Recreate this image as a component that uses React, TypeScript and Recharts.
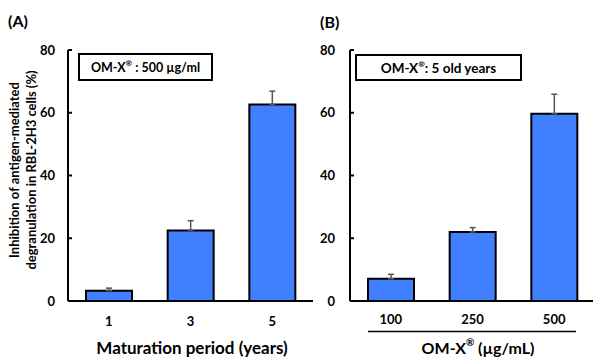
import React from "react"
import { BarChart, Bar, XAxis, YAxis, ErrorBar } from "recharts"

// panel A: maturation period
const periods = ["1", "3", "5"]
const periodMeans = [3.3, 22.5, 62.6]
const periodErrors = [0.8, 3.1, 4.3]

// panel B: OM-X dose
const doses = ["100", "250", "500"]
const doseMeans = [7.1, 22.0, 59.7]
const doseErrors = [1.4, 1.4, 6.2]

const yTicks = [0, 20, 40, 60, 80]

const FONT = "Lato, 'Open Sans', sans-serif"
const BAR_FILL = "#4080ff"

const toRows = (cats: string[], means: number[], errs: number[]) =>
  cats.map((c, i) => ({ name: c, value: means[i], err: [0, errs[i]] }))

const tickStyle = { fontSize: 13, fontWeight: 700, fill: "#000", fontFamily: FONT }

interface PanelProps {
  rows: { name: string; value: number; err: number[] }[]
  width: number
  yAxisWidth: number
  rightMargin: number
  yTickMargin: number
  xTickMargin: number
  showRight: boolean
}

function Panel({ rows, width, yAxisWidth, rightMargin, yTickMargin, xTickMargin, showRight }: PanelProps) {
  return (
    <BarChart
      width={width}
      height={358}
      data={rows}
      margin={{ top: 50, right: rightMargin, bottom: 0, left: 0 }}
      barCategoryGap={0}
    >
      <XAxis
        dataKey="name"
        height={57}
        axisLine={{ stroke: "#000", strokeWidth: 2 }}
        tickLine={false}
        tickSize={0}
        tickMargin={xTickMargin}
        tick={tickStyle}
      />
      <XAxis xAxisId="top" dataKey="name" orientation="top" height={0} tick={false} tickLine={false} axisLine={{ stroke: "#000", strokeWidth: 2 }} />
      <YAxis
        domain={[0, 80]}
        ticks={yTicks}
        width={yAxisWidth}
        axisLine={{ stroke: "#000", strokeWidth: 2 }}
        tickLine={{ stroke: "#000", strokeWidth: 2 }}
        tickSize={-4}
        tickMargin={yTickMargin}
        tick={tickStyle}
        interval={0}
      />
      {showRight && (
        <YAxis yAxisId="right" orientation="right" domain={[0, 80]} width={0} tick={false} tickLine={false} axisLine={{ stroke: "#000", strokeWidth: 2 }} />
      )}
      <Bar dataKey="value" fill={BAR_FILL} stroke="#000" strokeWidth={2} barSize={46} isAnimationActive={false}>
        <ErrorBar dataKey="err" direction="y" width={3} stroke="#555" strokeWidth={1.5} />
      </Bar>
    </BarChart>
  )
}

export default function App() {
  const text = { fontFamily: FONT, fontWeight: 700, fill: "#000" }
  return (
    <div style={{ position: "absolute", left: 0, top: 0, width: 593, height: 358, overflow: "hidden", background: "#fff" }}>
      <div style={{ position: "absolute", left: 0, top: 0 }}>
        <Panel
          rows={toRows(periods, periodMeans, periodErrors)}
          width={330}
          yAxisWidth={68}
          rightMargin={17}
          yTickMargin={17}
          xTickMargin={16}
          showRight
        />
      </div>
      <div style={{ position: "absolute", left: 300, top: 0 }}>
        <Panel
          rows={toRows(doses, doseMeans, doseErrors)}
          width={300}
          yAxisWidth={50}
          rightMargin={5}
          yTickMargin={19}
          xTickMargin={14}
          showRight={false}
        />
      </div>
      <svg width={593} height={358} style={{ position: "absolute", left: 0, top: 0, pointerEvents: "none" }}>
        <text x={8} y={27} fontSize={16} {...text}>(A)</text>
        <text x={320} y={28} fontSize={16} {...text}>(B)</text>
        <text transform="rotate(-90, 22, 170)" x={22} y={170} fontSize={13} textAnchor="middle" dominantBaseline="central" {...text}>
          <tspan x={22} dy={-8}>Inhibition of antigen-mediated</tspan>
          <tspan x={22} dy={17}>degranulation in RBL-2H3 cells (%)</tspan>
        </text>
        <rect x={79} y={54} width={133} height={26} fill="#fff" stroke="#000" strokeWidth={2} />
        <text x={145.5} y={67} fontSize={12.5} textAnchor="middle" dominantBaseline="central" {...text}>
          OM-X<tspan fontSize={8} dy={-4}>®</tspan><tspan dy={4}> : 500 µg/ml</tspan>
        </text>
        <rect x={356} y={55} width={165} height={25} fill="#fff" stroke="#000" strokeWidth={2} />
        <text x={438.5} y={68} fontSize={13.5} textAnchor="middle" dominantBaseline="central" {...text}>
          OM-X<tspan fontSize={8} dy={-4}>®</tspan><tspan dy={4}>: 5 old years</tspan>
        </text>
        <text x={192} y={347} fontSize={17} textAnchor="middle" dominantBaseline="central" {...text}>Maturation period (years)</text>
        <line x1={368} x2={576} y1={331.5} y2={331.5} stroke="#000" strokeWidth={1.5} />
        <text x={478} y={347} fontSize={16} textAnchor="middle" dominantBaseline="central" {...text}>
          OM-X<tspan fontSize={10} dy={-5}>®</tspan><tspan dy={5}> (µg/mL)</tspan>
        </text>
      </svg>
    </div>
  )
}
